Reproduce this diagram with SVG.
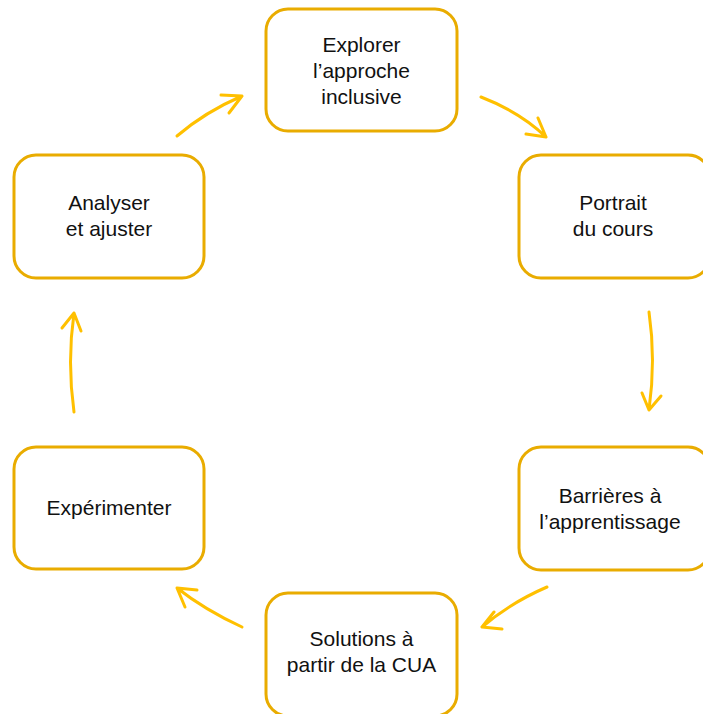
<svg xmlns="http://www.w3.org/2000/svg" width="703" height="714" viewBox="0 0 703 714">
<defs>
<style>
.box{fill:#fff;stroke:#E9AC00;stroke-width:3}
.t{font-family:"Liberation Sans",Arial,sans-serif;font-size:21px;fill:#111;text-anchor:middle}
.c{fill:none;stroke:#FFC000;stroke-width:3;stroke-linecap:round;stroke-linejoin:round}
</style>
</defs>
<rect width="703" height="714" fill="#fff"/>
<g id="n1"><rect class="box" x="266" y="9" width="191" height="122" rx="22"/>
<text class="t" x="361.5" y="52">Explorer</text><text class="t" x="361.5" y="78">l’approche</text><text class="t" x="361.5" y="104">inclusive</text></g>
<g id="n2"><rect class="box" x="519" y="155" width="191" height="123" rx="22"/>
<text class="t" x="613" y="210">Portrait</text><text class="t" x="613" y="236">du cours</text></g>
<g id="n3"><rect class="box" x="519" y="447" width="191" height="123" rx="22"/>
<text class="t" x="610" y="503">Barrières à</text><text class="t" x="610" y="529">l’apprentissage</text></g>
<g id="n4"><rect class="box" x="266" y="593" width="191" height="123" rx="22"/>
<text class="t" x="361.5" y="646">Solutions à</text><text class="t" x="361.5" y="672">partir de la CUA</text></g>
<g id="n5"><rect class="box" x="14" y="447" width="190" height="122" rx="22"/>
<text class="t" x="109" y="515">Expérimenter</text></g>
<g id="n6"><rect class="box" x="14" y="155" width="190" height="123" rx="22"/>
<text class="t" x="109" y="210">Analyser</text><text class="t" x="109" y="236">et ajuster</text></g>
<g id="connectors">
<path class="c" d="M177,136 Q205,112 242,96 M221,95 L242,96 L229,113"/>
<path class="c" d="M481,97 Q520,112 546,137 M538,118 L546,137 L526,134"/>
<path class="c" d="M649,312 Q656,360 649,410 M642,393 L649,410 L661,396"/>
<path class="c" d="M547,587 Q510,603 482,627 M494,612 L482,627 L502,629"/>
<path class="c" d="M242,627 Q205,610 177,588 M197,590 L177,588 L185,607"/>
<path class="c" d="M74,412 Q67,362 74,313 M62,328 L74,313 L81,331"/>
</g>
</svg>
